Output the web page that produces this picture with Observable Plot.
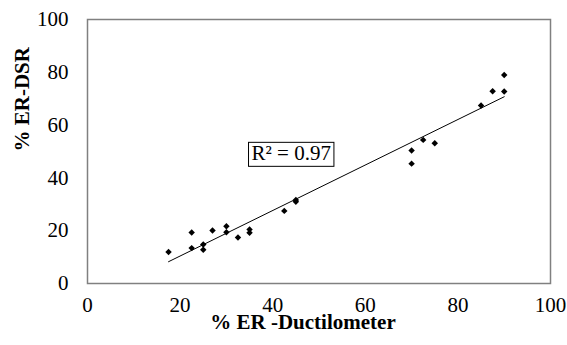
<!DOCTYPE html>
<html>
<head>
<meta charset="utf-8">
<script src="https://cdn.jsdelivr.net/npm/d3@7"></script>
<script src="https://cdn.jsdelivr.net/npm/@observablehq/plot@0.6"></script>
<style>
  html, body { margin: 0; padding: 0; background: #fff; }
  #chart svg { display: block; }
</style>
</head>
<body>
<div id="chart"></div>
<script>
const erDuctilometer = [17.5, 22.5, 22.5, 25, 25, 27, 30, 30, 32.5, 35, 35, 42.5, 45, 45, 70, 70, 72.5, 75, 85, 87.5, 90, 90];
const erDSR = [11.9, 19.3, 13.4, 14.8, 12.8, 20.1, 21.7, 19.4, 17.4, 20.5, 19.2, 27.5, 31.0, 31.6, 50.4, 45.4, 54.4, 53.1, 67.4, 72.8, 72.7, 79.0];
const xTicks = [0, 20, 40, 60, 80, 100];
const yTicks = [0, 20, 40, 60, 80, 100];
const xTitle = "% ER -Ductilometer";
const yTitle = "% ER-DSR";
const r2Label = "R² = 0.97";
const r2Anchor = [{x: 44, y: 49.2}];

const data = erDuctilometer.map((x, i) => ({x, y: erDSR[i]}));
const font = "Liberation Serif";

const chart = Plot.plot({
  width: 567,
  height: 345,
  marginLeft: 87,
  marginRight: 17,
  marginTop: 19,
  marginBottom: 62,
  style: "font-family: 'Liberation Serif', serif; font-size: 21px; background: #fff; color: #000;",
  x: {domain: [0, 100]},
  y: {domain: [0, 100]},
  marks: [
    Plot.frame({stroke: "#808080", strokeWidth: 1.5}),
    Plot.axisX({ticks: xTicks, tickSize: 0, tickPadding: 14, label: null, fontSize: 21, fontFamily: font}),
    Plot.axisY({ticks: yTicks, tickSize: 0, tickPadding: 19, label: null, fontSize: 21, fontFamily: font}),
    Plot.linearRegressionY(data, {x: "x", y: "y", ci: 0, stroke: "#000", strokeWidth: 1}),
    Plot.dot(data, {x: "x", y: "y", symbol: "diamond2", r: 2.9, fill: "#000", stroke: "none"}),
    Plot.text([xTitle], {frameAnchor: "bottom", dx: -16, dy: 45, text: d => d, fontWeight: "bold", fontSize: 21, fontFamily: font}),
    Plot.text([yTitle], {frameAnchor: "left", dx: -65, rotate: -90, text: d => d, fontWeight: "bold", fontSize: 21, fontFamily: font}),
    Plot.text(r2Anchor, {x: "x", y: "y", text: () => r2Label, fontSize: 21, fontFamily: font, className: "r2label"})
  ]
});
document.getElementById("chart").appendChild(chart);

// box around R² annotation
const t = chart.querySelector(".r2label text");
if (t) {
  const b = t.getBBox();
  const ns = "http://www.w3.org/2000/svg";
  const rect = document.createElementNS(ns, "rect");
  rect.setAttribute("x", b.x - 3);
  rect.setAttribute("y", b.y + 1);
  rect.setAttribute("width", b.width + 6);
  rect.setAttribute("height", b.height);
  rect.setAttribute("fill", "#fff");
  rect.setAttribute("stroke", "#000");
  rect.setAttribute("stroke-width", 1);
  const tr = t.getAttribute("transform");
  if (tr) rect.setAttribute("transform", tr);
  t.parentNode.insertBefore(rect, t);
}
</script>
</body>
</html>
